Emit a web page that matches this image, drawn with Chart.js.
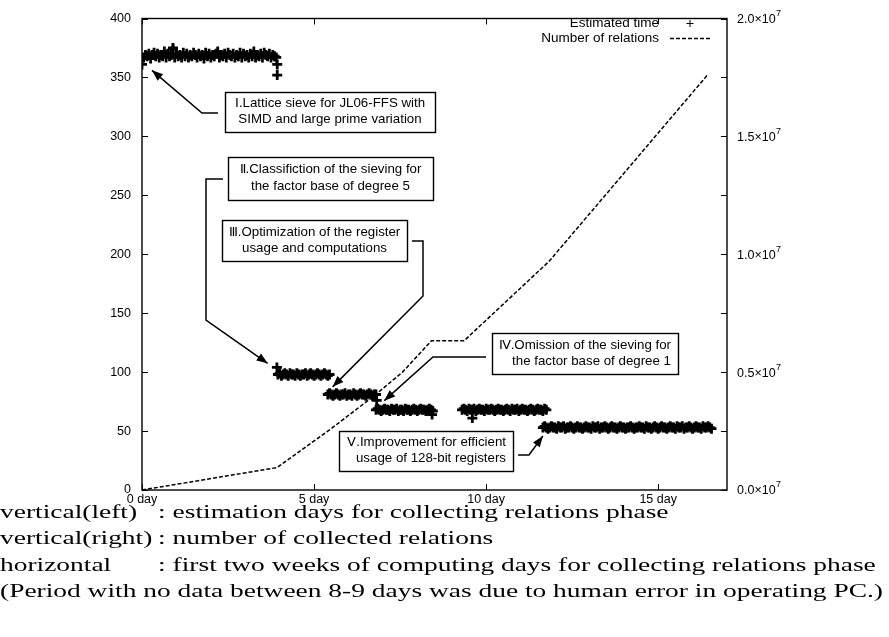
<!DOCTYPE html>
<html><head><meta charset="utf-8">
<script src="https://cdn.jsdelivr.net/npm/chart.js@4"></script>
<style>html,body{margin:0;padding:0;background:#fff}canvas{display:block}</style>
</head><body>
<canvas id="c" width="889" height="637"></canvas>
<script>
// ---- Estimated time (days) per improvement phase ----
const phase1Days = [0.05,0.1,0.15,0.2,0.25,0.3,0.35,0.4,0.45,0.5,0.55,0.6,0.65,0.7,0.75,0.8,0.85,0.9,0.95,1.0,1.05,1.1,1.15,1.2,1.25,1.3,1.35,1.4,1.45,1.5,1.55,1.6,1.65,1.7,1.75,1.8,1.85,1.9,1.95,2.0,2.05,2.1,2.15,2.2,2.25,2.3,2.35,2.4,2.45,2.5,2.55,2.6,2.65,2.7,2.75,2.8,2.85,2.9,2.95,3.0,3.05,3.1,3.15,3.2,3.25,3.3,3.35,3.4,3.45,3.5,3.55,3.6,3.65,3.7,3.75,3.8,3.85,3.9];
const phase1Est  = [367,369,368,370,366,369,371,368,370,367,369,368,372,367,370,368,369,374,367,370,
  368,369,367,371,368,370,367,369,368,371,369,367,370,368,369,366,371,368,370,367,
  369,368,370,372,367,369,368,370,367,371,369,368,370,367,369,368,371,367,370,368,
  369,367,370,368,372,367,369,368,370,367,371,369,368,370,367,369,368,367];
const phase2Days = [3.95,4.0,4.05,4.1,4.15,4.2,4.25,4.3,4.35,4.4,4.45,4.5,4.55,4.6,4.65,4.7,4.75,4.8,4.85,4.9,4.95,5.0,5.05,5.1,5.15,5.2,5.25,5.3,5.35,5.4,5.45];
const phase2Est  = [98,99,97,98,99,98,97,99,98,98,97,99,98,97,98,98,99,97,98,99,98,97,98,99,98,97,98,99,98,97,98];
const phase3Days = [5.4,5.45,5.5,5.55,5.6,5.65,5.7,5.75,5.8,5.85,5.9,5.95,6.0,6.05,6.1,6.15,6.2,6.25,6.3,6.35,6.4,6.45,6.5,6.55,6.6,6.65,6.7,6.75,6.8];
const phase3Est  = [81,82,81,80,81,82,81,80,81,81,82,80,81,81,80,82,81,80,81,82,81,81,80,81,82,81,80,81,81];
const phase4aDays = [6.8,6.85,6.9,6.95,7.0,7.05,7.1,7.15,7.2,7.25,7.3,7.35,7.4,7.45,7.5,7.55,7.6,7.65,7.7,7.75,7.8,7.85,7.9,7.95,8.0,8.05,8.1,8.15,8.2,8.25,8.3,8.35,8.4,8.45];
const phase4aEst  = [68,69,68,67,68,69,68,68,67,69,68,68,69,67,68,68,67,69,68,68,67,68,69,68,67,68,69,68,68,67,68,69,68,67];
const phase4bDays = [9.3,9.35,9.4,9.45,9.5,9.55,9.6,9.65,9.7,9.75,9.8,9.85,9.9,9.95,10.0,10.05,10.1,10.15,10.2,10.25,10.3,10.35,10.4,10.45,10.5,10.55,10.6,10.65,10.7,10.75,10.8,10.85,10.9,10.95,11.0,11.05,11.1,11.15,11.2,11.25,11.3,11.35,11.4,11.45,11.5,11.55,11.6,11.65,11.7,11.75];
const phase4bEst  = [68,69,68,67,69,68,68,69,67,68,69,68,68,67,69,68,68,69,68,67,68,69,68,68,67,68,69,68,67,69,68,68,69,67,68,69,68,68,67,68,69,68,67,68,69,68,68,67,69,68];
const phase5Days = [11.65,11.7,11.75,11.8,11.85,11.9,11.95,12.0,12.05,12.1,12.15,12.2,12.25,12.3,12.35,12.4,12.45,12.5,12.55,12.6,12.65,12.7,12.75,12.8,12.85,12.9,12.95,13.0,13.05,13.1,13.15,13.2,13.25,13.3,13.35,13.4,13.45,13.5,13.55,13.6,13.65,13.7,13.75,13.8,13.85,13.9,13.95,14.0,14.05,14.1,14.15,14.2,14.25,14.3,14.35,14.4,14.45,14.5,14.55,14.6,14.65,14.7,14.75,14.8,14.85,14.9,14.95,15.0,15.05,15.1,15.15,15.2,15.25,15.3,15.35,15.4,15.45,15.5,15.55,15.6,15.65,15.7,15.75,15.8,15.85,15.9,15.95,16.0,16.05,16.1,16.15,16.2,16.25,16.3,16.35,16.4,16.45,16.5,16.55];
const phase5Est  = [53,54,53,52,53,54,53,53,52,54,53,53,54,52,53,53,54,53,52,53,
  54,53,53,52,53,54,53,53,52,54,53,53,54,52,53,53,54,53,52,53,
  54,53,53,52,53,54,53,53,52,53,53,54,53,52,53,53,54,53,53,52,
  54,53,53,52,53,54,53,52,53,54,53,53,52,53,54,53,53,52,54,53,
  53,54,52,53,53,54,53,52,53,54,53,53,52,54,53,53,54,53,52];
const outlierDays = [0.0,0.9,3.93,3.93,3.92,6.82,8.43,9.6];
const outlierEst  = [361,375,361,352,104,76,64,61];

// ---- Number of collected relations ----
const relDays  = [0, 3.92, 5.45, 6.75, 7.57, 8.41, 9.36, 11.83, 16.43];
const relCount = [0, 0.95e6, 2.55e6, 4.0e6, 5.0e6, 6.33e6, 6.33e6, 9.7e6, 1.76e7];

// ---- Axis ticks / labels ----
const xTickDays = [0, 5, 10, 15];
const seriesNames = ['Estimated time', 'Number of relations'];

const footLabels = ['vertical(left)', 'vertical(right)', 'horizontal', ''];
const footTexts = [': estimation days for collecting relations phase',
  ': number of collected relations',
  ': first two weeks of computing days for collecting relations phase',
  '(Period with no data between 8-9 days was due to human error in operating PC.)'];

const notes = [
  {lines:['Ⅰ.Lattice sieve for JL06-FFS with','SIMD and large prime variation'], box:[225,92,435,132], align:'center',
   path:[[218,113],[202,113]], tip:[0.29,356]},
  {lines:['Ⅱ.Classifiction of the sieving for','the factor base of degree 5'], box:[228,157,433,200], align:'center',
   path:[[223,179],[206,179],[206,320]], tip:[3.65,107.5]},
  {lines:['Ⅲ.Optimization of the register','usage and computations'], box:[222,220,407,261], align:'center',
   path:[[412,241],[423,241],[423,296]], tip:[5.54,87.5]},
  {lines:['Ⅳ.Omission of the sieving for','the factor base of degree 1'], box:[492,333,678,374], align:'right',
   path:[[486,357],[433,357]], tip:[7.04,75.8]},
  {lines:['Ⅴ.Improvement for efficient','usage of 128-bit registers'], box:[339,431,513,471], align:'right',
   path:[[518,455],[529,455]], tip:[11.65,45.8]}
];

function zip(d, v) { return d.map((x, i) => ({x: x, y: v[i]})); }
const estPoints = [].concat(
  zip(phase1Days, phase1Est), zip(phase2Days, phase2Est), zip(phase3Days, phase3Est),
  zip(phase4aDays, phase4aEst), zip(phase4bDays, phase4bEst), zip(phase5Days, phase5Est),
  zip(outlierDays, outlierEst));
const relPoints = zip(relDays, relCount);

const SANS = "'Liberation Sans', Arial, sans-serif";

const framePlugin = {
  id: 'frame',
  afterDraw(chart) {
    const ctx = chart.ctx, a = chart.chartArea;
    const x = chart.scales.x, y = chart.scales.y, y2 = chart.scales.y2;
    ctx.save();
    ctx.strokeStyle = '#000';
    ctx.lineWidth = 1.4;
    ctx.strokeRect(a.left, a.top, a.right - a.left, a.bottom - a.top);
    ctx.lineWidth = 1;
    ctx.beginPath();
    xTickDays.forEach(d => {
      const px = Math.round(x.getPixelForValue(d)) + 0.5;
      ctx.moveTo(px, a.bottom); ctx.lineTo(px, a.bottom - 6);
      ctx.moveTo(px, a.top); ctx.lineTo(px, a.top + 6);
    });
    y.ticks.forEach(t => {
      const py = Math.round(y.getPixelForValue(t.value)) + 0.5;
      ctx.moveTo(a.left, py); ctx.lineTo(a.left + 6, py);
    });
    y2.ticks.forEach(t => {
      const py = Math.round(y2.getPixelForValue(t.value)) + 0.5;
      ctx.moveTo(a.right, py); ctx.lineTo(a.right - 6, py);
    });
    ctx.stroke();

    // right axis labels with superscript exponent
    ctx.fillStyle = '#000';
    ctx.textAlign = 'left';
    ctx.textBaseline = 'middle';
    y2.ticks.forEach(t => {
      if (Math.abs(t.value % 5e6) > 1) return;
      const py = y2.getPixelForValue(t.value);
      const base = (t.value / 1e7).toFixed(1) + '×10';
      ctx.font = '12.5px ' + SANS;
      ctx.fillText(base, a.right + 10, py + 1);
      const w = ctx.measureText(base).width;
      ctx.font = '9px ' + SANS;
      ctx.fillText('7', a.right + 10 + w + 0.5, py - 5);
    });

    // legend (inside, top right)
    ctx.font = '13.5px ' + SANS;
    ctx.textAlign = 'right';
    ctx.textBaseline = 'middle';
    ctx.fillText(seriesNames[0], 659, 23);
    ctx.fillText(seriesNames[1], 659, 38);
    ctx.beginPath();
    ctx.moveTo(686.5, 23.5); ctx.lineTo(693.5, 23.5);
    ctx.moveTo(690, 20); ctx.lineTo(690, 27);
    ctx.stroke();
    ctx.lineWidth = 1.3;
    ctx.setLineDash([4, 2]);
    ctx.beginPath();
    ctx.moveTo(670, 38.5); ctx.lineTo(711, 38.5);
    ctx.stroke();
    ctx.setLineDash([]);

    // annotations
    notes.forEach(n => {
      const [l, t, r, b] = n.box;
      ctx.fillStyle = '#fff';
      ctx.fillRect(l, t, r - l, b - t);
      ctx.lineWidth = 1.4;
      ctx.strokeStyle = '#000';
      ctx.strokeRect(l + 0.5, t + 0.5, r - l, b - t);
      ctx.fillStyle = '#000';
      ctx.font = '13.3px ' + SANS;
      ctx.textBaseline = 'middle';
      const h = b - t;
      n.lines.forEach((s, i) => {
        const ly = t + h * (i === 0 ? 0.29 : 0.69);
        if (n.align === 'center') { ctx.textAlign = 'center'; ctx.fillText(s, (l + r) / 2, ly); }
        else { ctx.textAlign = 'right'; ctx.fillText(s, r - 7, ly); }
      });
      const tip = [x.getPixelForValue(n.tip[0]), y.getPixelForValue(n.tip[1])];
      const pts = n.path.concat([tip]);
      ctx.lineWidth = 1.5;
      ctx.beginPath();
      ctx.moveTo(pts[0][0], pts[0][1]);
      for (let i = 1; i < pts.length; i++) ctx.lineTo(pts[i][0], pts[i][1]);
      ctx.stroke();
      const p = pts[pts.length - 2];
      const ang = Math.atan2(tip[1] - p[1], tip[0] - p[0]);
      const L = 11, W = 4.2;
      ctx.beginPath();
      ctx.moveTo(tip[0], tip[1]);
      ctx.lineTo(tip[0] - L * Math.cos(ang) + W * Math.sin(ang), tip[1] - L * Math.sin(ang) - W * Math.cos(ang));
      ctx.lineTo(tip[0] - L * Math.cos(ang) - W * Math.sin(ang), tip[1] - L * Math.sin(ang) + W * Math.cos(ang));
      ctx.closePath();
      ctx.fill();
    });

    // footnote
    ctx.font = "19px 'Liberation Serif', 'Times New Roman', serif";
    ctx.textAlign = 'left';
    ctx.textBaseline = 'middle';
    const target = 883;
    const sx = target / ctx.measureText(footTexts[3]).width;
    const colonX = ctx.measureText(footLabels[1]).width + 4;
    const ys = [513, 539.5, 566, 592.5];
    ctx.save();
    ctx.scale(sx, 1);
    footLabels.forEach((lab, i) => {
      if (lab) {
        ctx.fillText(lab, 0, ys[i]);
        ctx.fillText(footTexts[i], colonX, ys[i]);
      } else {
        ctx.fillText(footTexts[i], 0, ys[i]);
      }
    });
    ctx.restore();
    ctx.restore();
  }
};

new Chart(document.getElementById('c'), {
  type: 'scatter',
  data: {
    datasets: [
      {label: seriesNames[0], data: estPoints, yAxisID: 'y', showLine: false,
       pointStyle: 'cross', pointRadius: 5, pointBorderWidth: 2.8,
       borderColor: '#000', backgroundColor: '#000'},
      {label: seriesNames[1], data: relPoints, yAxisID: 'y2', showLine: true,
       pointRadius: 0, borderColor: '#000', borderWidth: 1.5, borderDash: [4, 2],
       tension: 0, fill: false}
    ]
  },
  options: {
    responsive: false, animation: false, devicePixelRatio: 1,
    layout: {padding: {top: 10, left: 0, right: 0, bottom: 0}},
    plugins: {legend: {display: false}, tooltip: {enabled: false}},
    scales: {
      x: {type: 'linear', min: 0, max: 17, position: 'bottom',
          grid: {display: false, drawTicks: false}, border: {display: false},
          afterFit: s => { s.height = 147; },
          afterBuildTicks: s => { s.ticks = xTickDays.map(v => ({value: v})); },
          ticks: {padding: 2, autoSkip: false, maxRotation: 0, color: '#000',
                  font: {family: SANS, size: 12.5}, callback: v => v + ' day'}},
      y: {type: 'linear', min: 0, max: 400, position: 'left',
          grid: {display: false, drawTicks: false}, border: {display: false},
          afterFit: s => { s.width = 142; },
          ticks: {stepSize: 50, padding: 11, color: '#000', autoSkip: false,
                  font: {family: SANS, size: 12.5}}},
      y2: {type: 'linear', min: 0, max: 2e7, position: 'right',
          grid: {display: false, drawTicks: false}, border: {display: false},
          afterFit: s => { s.width = 162; },
          ticks: {stepSize: 2.5e6, padding: 10, color: '#000', autoSkip: false,
                  font: {family: SANS, size: 12.5}, callback: () => ''}}
    }
  },
  plugins: [framePlugin]
});
</script>
</body></html>
